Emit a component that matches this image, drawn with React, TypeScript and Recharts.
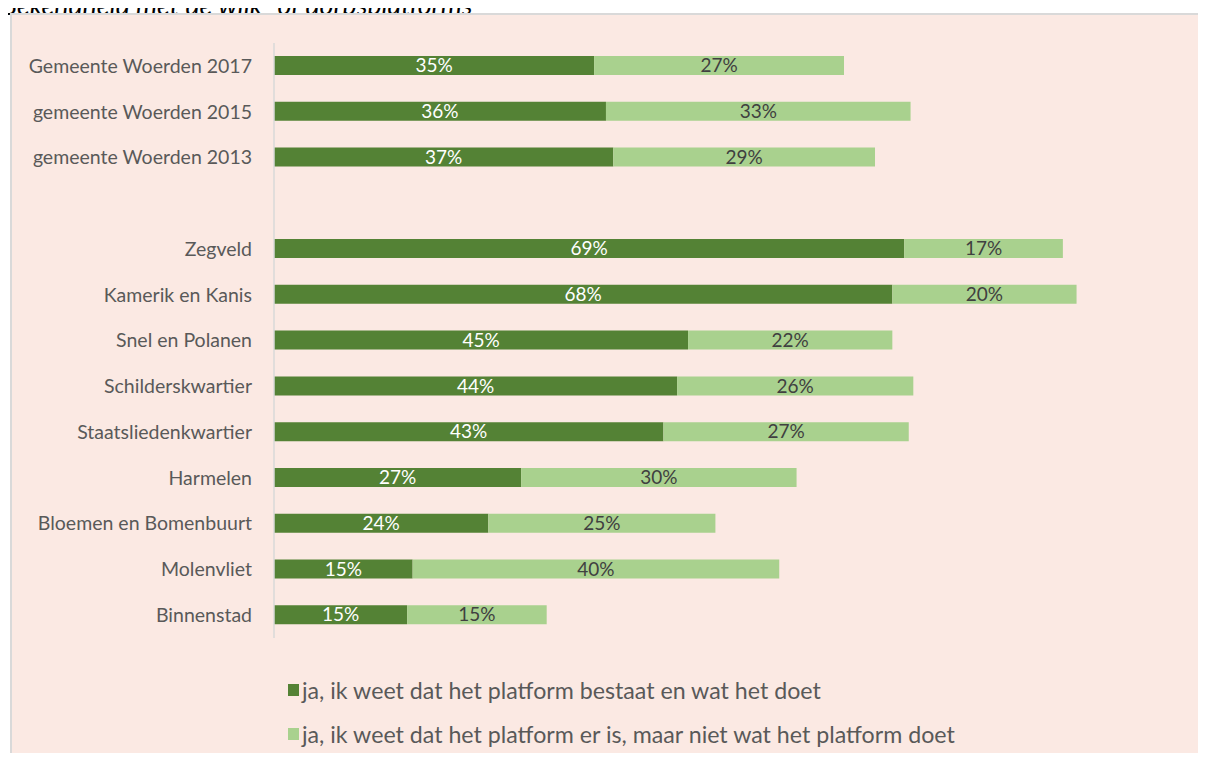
import React from "react";
import { BarChart, Bar, XAxis, YAxis, Legend, LabelList } from "recharts";

// Categories top to bottom; the empty one is the gap between the municipality rows and the districts
const categories = [
  "Gemeente Woerden 2017",
  "gemeente Woerden 2015",
  "gemeente Woerden 2013",
  "",
  "Zegveld",
  "Kamerik en Kanis",
  "Snel en Polanen",
  "Schilderskwartier",
  "Staatsliedenkwartier",
  "Harmelen",
  "Bloemen en Bomenbuurt",
  "Molenvliet",
  "Binnenstad",
];

// ja, ik weet dat het platform bestaat en wat het doet
const knowsWhat = [35.1, 36.4, 37.2, null, 69.1, 67.8, 45.4, 44.2, 42.7, 27.1, 23.5, 15.2, 14.6];
// ja, ik weet dat het platform er is, maar niet wat het platform doet
const knowsExists = [27.4, 33.4, 28.7, null, 17.4, 20.2, 22.4, 25.9, 26.9, 30.2, 24.9, 40.2, 15.3];

const seriesNames = [
  "ja, ik weet dat het platform bestaat en wat het doet",
  "ja, ik weet dat het platform er is, maar niet wat het platform doet",
];

const data = categories.map((name, i) => ({
  name,
  known: knowsWhat[i],
  exists: knowsExists[i],
}));

const FONT = "Lato, 'Open Sans', sans-serif";
const DARK = "#548235";
const LIGHT = "#A9D18E";
const TEXT = "#595959";
const BG = "#FBE9E3";

const pct = (v: any) => (v == null ? "" : `${Math.round(Number(v))}%`);

function LegendBox({ payload }: any) {
  return (
    <div style={{ fontFamily: FONT, fontSize: 23.2, color: TEXT }}>
      {(payload || []).map((p: any) => (
        <div key={p.value} style={{ display: "flex", alignItems: "center", height: 44 }}>
          <span style={{ width: 11, height: 12, background: p.color, marginRight: 3, display: "inline-block" }} />
          <span>{p.value}</span>
        </div>
      ))}
    </div>
  );
}

export default function App() {
  return (
    <div style={{ position: "relative", width: 1206, height: 761, margin: -8, overflow: "hidden", background: "#fff" }}>
      <div
        style={{
          position: "absolute",
          left: 1,
          top: -8,
          fontFamily: FONT,
          fontStyle: "italic",
          fontSize: 26.7,
          lineHeight: "26.7px",
          color: "#000",
          whiteSpace: "nowrap",
        }}
      >
        Bekendheid met de wijk- of dorpsplatforms
      </div>
      <div
        style={{
          position: "absolute",
          left: 10,
          top: 13,
          right: 0,
          bottom: 0,
          background: BG,
          borderTop: "2px solid #D9D9D9",
          borderLeft: "2px solid #D9D9D9",
        }}
      />
      <div style={{ position: "absolute", left: 0, top: 0 }}>
        <BarChart
          width={1206}
          height={761}
          data={data}
          layout="vertical"
          margin={{ top: 43, right: 20, bottom: 123, left: 0 }}
        >
          <XAxis type="number" domain={[0, 100]} hide />
          <YAxis
            type="category"
            dataKey="name"
            width={274}
            axisLine={{ stroke: "#D9D9D9", strokeWidth: 1.5 }}
            tickLine={false}
            tickSize={0}
            tickMargin={22}
            interval={0}
            tick={{ fill: TEXT, fontSize: 19.5, fontFamily: FONT }}
          />
          <Legend
            content={<LegendBox />}
            layout="horizontal"
            verticalAlign="middle"
            align="center"
            wrapperStyle={{ left: 288, top: 668, width: 800 }}
          />
          <Bar dataKey="known" name={seriesNames[0]} stackId="s" fill={DARK} barSize={19} isAnimationActive={false}>
            <LabelList dataKey="known" position="center" formatter={pct} fill="#FFFFFF" fontSize={19} fontFamily={FONT} />
          </Bar>
          <Bar dataKey="exists" name={seriesNames[1]} stackId="s" fill={LIGHT} barSize={19} isAnimationActive={false}>
            <LabelList dataKey="exists" position="center" formatter={pct} fill="#404040" fontSize={19} fontFamily={FONT} />
          </Bar>
        </BarChart>
      </div>
    </div>
  );
}
